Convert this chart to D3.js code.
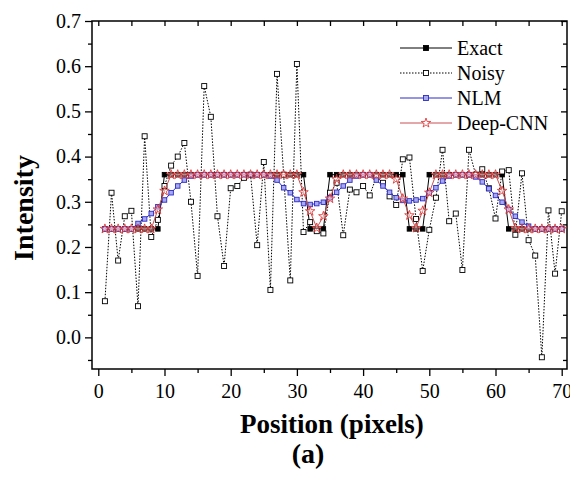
<!DOCTYPE html>
<html>
<head>
<meta charset="utf-8">
<script src="https://cdn.jsdelivr.net/npm/d3@7"></script>
<style>
  body { margin: 0; background: #fff; }
</style>
</head>
<body>
<div id="chart"></div>
<script>
// values, position 1..70
var exact = [0.24,0.24,0.24,0.24,0.24,0.24,0.24,0.24,0.24,0.36,
  0.36,0.36,0.36,0.36,0.36,0.36,0.36,0.36,0.36,0.36,
  0.36,0.36,0.36,0.36,0.36,0.36,0.36,0.36,0.36,0.36,
  0.36,0.24,0.24,0.24,0.36,0.36,0.36,0.36,0.36,0.36,
  0.36,0.36,0.36,0.36,0.36,0.36,0.24,0.24,0.24,0.36,
  0.36,0.36,0.36,0.36,0.36,0.36,0.36,0.36,0.36,0.36,
  0.36,0.24,0.24,0.24,0.24,0.24,0.24,0.24,0.24,0.24];

var noisy = [0.08,0.32,0.17,0.268,0.28,0.069,0.445,0.222,0.26,0.335,
  0.38,0.40,0.43,0.30,0.136,0.556,0.488,0.268,0.158,0.33,
  0.335,0.353,0.36,0.204,0.388,0.105,0.583,0.36,0.126,0.605,
  0.233,0.255,0.235,0.23,0.32,0.342,0.226,0.327,0.321,0.335,
  0.314,0.355,0.342,0.312,0.293,0.394,0.398,0.262,0.147,0.238,
  0.309,0.415,0.257,0.274,0.149,0.415,0.36,0.372,0.33,0.263,
  0.367,0.37,0.227,0.363,0.215,0.181,-0.044,0.281,0.141,0.279];

var nlm = [0.24,0.24,0.24,0.24,0.24,0.252,0.262,0.274,0.289,0.304,
  0.32,0.335,0.348,0.357,0.36,0.36,0.36,0.36,0.36,0.36,
  0.36,0.36,0.36,0.36,0.36,0.357,0.348,0.331,0.32,0.305,
  0.296,0.294,0.296,0.299,0.309,0.321,0.335,0.348,0.357,0.36,
  0.36,0.348,0.335,0.321,0.309,0.303,0.302,0.304,0.307,0.32,
  0.331,0.346,0.357,0.36,0.36,0.36,0.355,0.344,0.329,0.314,
  0.299,0.283,0.268,0.255,0.246,0.24,0.24,0.24,0.24,0.24];

var cnn = [0.24,0.24,0.24,0.24,0.24,0.24,0.24,0.24,0.283,0.324,
  0.36,0.36,0.36,0.36,0.36,0.36,0.36,0.36,0.36,0.36,
  0.36,0.36,0.36,0.36,0.36,0.36,0.36,0.36,0.36,0.36,
  0.321,0.279,0.242,0.268,0.307,0.35,0.36,0.36,0.36,0.36,
  0.36,0.36,0.36,0.36,0.35,0.307,0.27,0.242,0.28,0.32,
  0.36,0.36,0.36,0.36,0.36,0.36,0.36,0.36,0.36,0.36,
  0.324,0.283,0.242,0.24,0.24,0.24,0.24,0.24,0.24,0.24];

var xMajor = [0,10,20,30,40,50,60,70];
var xMinor = [5,15,25,35,45,55,65];
var yMajor = [0.0,0.1,0.2,0.3,0.4,0.5,0.6,0.7];
var yMinor = [-0.05,0.05,0.15,0.25,0.35,0.45,0.55,0.65];
var legendNames = ["Exact","Noisy","NLM","Deep-CNN"];

const margin = {top: 21, right: 3, bottom: 108, left: 92};
const outerWidth = 570;
const outerHeight = 477;
const innerWidth = outerWidth - margin.left - margin.right;
const innerHeight = outerHeight - margin.top - margin.bottom;
const serif = "Liberation Serif, Times New Roman, serif";

const blue = "#2b2bc8";
const red = "#c85050";
const starRed = "#e02828";

const SVG = d3.select("#chart").append("svg")
  .attr("width", outerWidth)
  .attr("height", outerHeight)
  .attr("font-family", serif);
const svg = SVG.append("g")
  .attr("transform", "translate(" + margin.left + "," + margin.top + ")");

const xScale = d3.scaleLinear().domain([-0.95, 70.8]).range([0, innerWidth]);
const yScale = d3.scaleLinear().domain([-0.07, 0.7]).range([innerHeight, 0]);

function styleAxis(g) {
  g.attr("font-family", serif).attr("font-size", 20);
  g.select(".domain").remove();
  g.selectAll("line").attr("stroke", "#000").attr("stroke-width", 1.3);
  g.selectAll("text").attr("fill", "#000");
}
function noLabels(g) {
  styleAxis(g);
  g.selectAll("text").remove();
}

// bottom axis
svg.append("g").attr("transform", "translate(0," + innerHeight + ")")
  .call(d3.axisBottom(xScale).tickValues(xMajor).tickSize(7).tickPadding(8).tickFormat(d3.format("d")))
  .call(styleAxis);
svg.append("g").attr("transform", "translate(0," + innerHeight + ")")
  .call(d3.axisBottom(xScale).tickValues(xMinor).tickSize(4))
  .call(noLabels);
// top axis, ticks inward
svg.append("g")
  .call(d3.axisBottom(xScale).tickValues(xMajor.concat(xMinor)).tickSize(5))
  .call(noLabels);
// left axis
svg.append("g")
  .call(d3.axisLeft(yScale).tickValues(yMajor).tickSize(7).tickPadding(4).tickFormat(d3.format(".1f")))
  .call(styleAxis);
svg.append("g")
  .call(d3.axisLeft(yScale).tickValues(yMinor).tickSize(4))
  .call(noLabels);
// right axis, ticks inward
svg.append("g").attr("transform", "translate(" + innerWidth + ",0)")
  .call(d3.axisLeft(yScale).tickValues(yMajor).tickSize(6))
  .call(noLabels);
svg.append("g").attr("transform", "translate(" + innerWidth + ",0)")
  .call(d3.axisLeft(yScale).tickValues(yMinor).tickSize(4))
  .call(noLabels);

svg.append("rect")
  .attr("width", innerWidth).attr("height", innerHeight)
  .attr("fill", "none").attr("stroke", "#000").attr("stroke-width", 1.5);

var line = d3.line()
  .x(function(d, i) { return xScale(i + 1); })
  .y(function(d) { return yScale(d); });

function squares(data, fill, stroke, size) {
  svg.append("g").selectAll("rect").data(data).enter().append("rect")
    .attr("x", function(d, i) { return xScale(i + 1) - size / 2; })
    .attr("y", function(d) { return yScale(d) - size / 2; })
    .attr("width", size).attr("height", size)
    .attr("fill", fill).attr("stroke", stroke).attr("stroke-width", 0.9);
}

// Exact
svg.append("path").datum(exact).attr("d", line)
  .attr("fill", "none").attr("stroke", "#000").attr("stroke-width", 1);
squares(exact, "#000", "#000", 4.5);

// Noisy
svg.append("path").datum(noisy).attr("d", line)
  .attr("fill", "none").attr("stroke", "#000").attr("stroke-width", 1)
  .attr("stroke-dasharray", "1.5,1.5");
squares(noisy, "#fff", "#000", 5);

// NLM
svg.append("path").datum(nlm).attr("d", line)
  .attr("fill", "none").attr("stroke", blue).attr("stroke-width", 1);
squares(nlm, "#a8a8ee", blue, 4.5);

// Deep-CNN
var star = d3.symbol().type(d3.symbolStar).size(28);
svg.append("path").datum(cnn).attr("d", line)
  .attr("fill", "none").attr("stroke", red).attr("stroke-width", 1);
svg.append("g").selectAll("path").data(cnn).enter().append("path")
  .attr("d", star)
  .attr("transform", function(d, i) { return "translate(" + xScale(i + 1) + "," + yScale(d) + ")"; })
  .attr("fill", "#fff").attr("fill-opacity", 0.4).attr("stroke", starRed).attr("stroke-width", 0.8);

// legend
var legend = SVG.append("g").attr("transform", "translate(400,48)");
legendNames.forEach(function(name, i) {
  var g = legend.append("g").attr("transform", "translate(0," + (i * 25) + ")");
  var col = i == 2 ? blue : (i == 3 ? red : "#000");
  g.append("line").attr("x1", 0).attr("x2", 52).attr("y1", 0).attr("y2", 0)
    .attr("stroke", col).attr("stroke-width", 1)
    .attr("stroke-dasharray", i == 1 ? "1.5,1.5" : null);
  if (i == 3) {
    g.append("path").attr("d", star).attr("transform", "translate(26,0)")
      .attr("fill", "#fff").attr("stroke", starRed).attr("stroke-width", 0.8);
  } else {
    var fill = i == 0 ? "#000" : (i == 1 ? "#fff" : "#a8a8ee");
    g.append("rect").attr("x", 23.5).attr("y", -2.5).attr("width", 5).attr("height", 5)
      .attr("fill", fill).attr("stroke", col).attr("stroke-width", 0.9);
  }
  g.append("text").attr("x", 57).attr("y", 7)
    .attr("font-size", 20).text(name);
});

// axis titles
SVG.append("text")
  .attr("transform", "translate(33,208) rotate(-90)")
  .attr("text-anchor", "middle")
  .attr("font-size", 28).attr("font-weight", "bold")
  .text("Intensity");

SVG.append("text")
  .attr("x", 332).attr("y", 433)
  .attr("text-anchor", "middle")
  .attr("font-size", 27).attr("font-weight", "bold")
  .text("Position (pixels)");

SVG.append("text")
  .attr("x", 308).attr("y", 463)
  .attr("text-anchor", "middle")
  .attr("font-size", 28).attr("font-weight", "bold")
  .text("(a)");
</script>
</body>
</html>
